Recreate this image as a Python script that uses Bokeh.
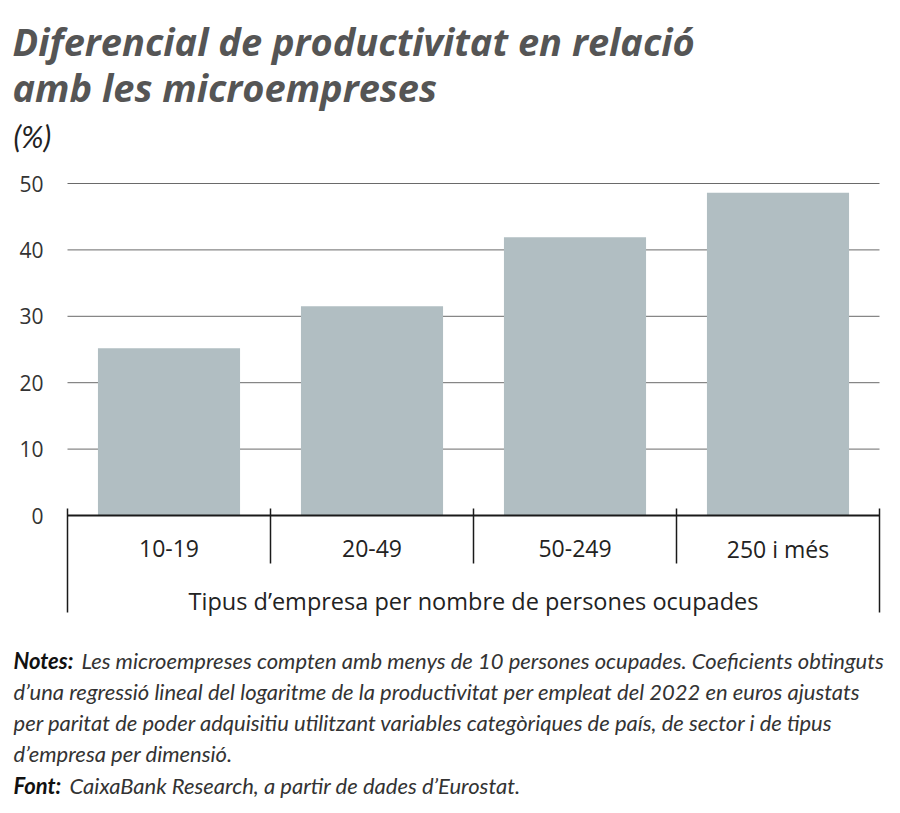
from bokeh.plotting import figure
from bokeh.models import Range1d
from bokeh.embed import file_html
from bokeh.resources import INLINE
from bokeh.core.properties import value
import numpy as np

# ---- data ----
categories = ["10-19", "20-49", "50-249", "250 i més"]
values = [25.2, 31.5, 41.9, 48.6]
y_ticks = [0, 10, 20, 30, 40, 50]
title_lines = ["Diferencial de productivitat en relació", "amb les microempreses"]
unit_label = "(%)"
x_title = "Tipus d’empresa per nombre de persones ocupades"
notes_head = "Notes:"
notes_lines = [
    "Les microempreses compten amb menys de 10 persones ocupades. Coeficients obtinguts",
    "d’una regressió lineal del logaritme de la productivitat per empleat del 2022 en euros ajustats",
    "per paritat de poder adquisitiu utilitzant variables categòriques de país, de sector i de tipus",
    "d’empresa per dimensió.",
]
source_head = "Font:"
source_text = "CaixaBank Research, a partir de dades d’Eurostat."

# ---- layout (page pixels) ----
W, H = 892, 805
X0_PX, X1_PX = 67, 879      # category axis extent
Y0_PX, Y50_PX = 515, 183    # value 0 and value 50
n = len(categories)
xs = (X1_PX - X0_PX) / n               # px per category
ys = (Y0_PX - Y50_PX) / 50.0           # px per unit


def xd(X):
    return (X - X0_PX) / xs


def yd(Y):
    return (Y0_PX - Y) / ys


TITLE_FONT = "Open Sans"
NOTE_FONT = "Lato"
AX_FONT = "Open Sans"

p = figure(width=W, height=H,
           x_range=Range1d(xd(0), xd(W)), y_range=Range1d(yd(H), yd(0)),
           output_backend="svg", toolbar_location=None,
           min_border=0, min_border_left=0, min_border_right=0,
           min_border_top=0, min_border_bottom=0)
p.outline_line_color = None
p.background_fill_color = "white"
p.border_fill_color = "white"
p.axis.visible = False
p.grid.visible = False

# gridlines and y tick labels
yt = np.array(y_ticks, dtype=float)
p.segment(x0=[0] * len(yt), x1=[n] * len(yt), y0=yt, y1=yt,
          line_color="#6a6a6a", line_width=1)
p.text(x=[xd(43)] * len(yt), y=yt, text=[str(t) for t in y_ticks],
       text_align="right", text_baseline="middle",
       text_font=value(AX_FONT), text_font_size="21px", text_color="#333333")

# bars
centers = np.arange(n) + 0.5
p.vbar(x=centers, top=values, bottom=0, width=0.7,
       fill_color="#b1bec2", line_color=None)

# baseline axis and separators
bounds = np.arange(n + 1)
p.segment(x0=[0], x1=[n], y0=[0], y1=[0], line_color="#1a1a1a", line_width=2)
inner = bounds[1:-1]
p.segment(x0=inner, x1=inner, y0=[yd(508)] * len(inner), y1=[yd(563)] * len(inner),
          line_color="#1a1a1a", line_width=1.5)
outer = np.array([bounds[0], bounds[-1]])
p.segment(x0=outer, x1=outer, y0=[yd(508)] * 2, y1=[yd(612)] * 2,
          line_color="#1a1a1a", line_width=1.5)

p.text(x=centers, y=[yd(548)] * n, text=categories, text_align="center",
       text_baseline="middle", text_font=value(AX_FONT),
       text_font_size="23px", text_color="#222222")
p.text(x=[n / 2], y=[yd(600)], text=[x_title], text_align="center",
       text_baseline="middle", text_font=value(AX_FONT),
       text_font_size="23.5px", text_color="#222222")


def page_text(text, X, base_Y, size, color, style="normal", font=NOTE_FONT):
    # place by visual baseline: shift to the middle of the em box
    mid_Y = base_Y - 0.3 * size
    p.text(x=[xd(X)], y=[yd(mid_Y)], text=[text], text_align="left",
           text_baseline="middle", text_font=value(font),
           text_font_size=f"{size}px", text_font_style=style, text_color=color)


page_text(title_lines[0], 12, 52, 38, "#555555", "bold italic", TITLE_FONT)
page_text(title_lines[1], 12, 98, 38, "#555555", "bold italic", TITLE_FONT)
page_text(unit_label, 13, 144, 30, "#222222", "italic", NOTE_FONT)

note_y = [667, 698, 729, 760]
NS = 22.0
page_text(notes_head, 13, note_y[0], NS, "#111111", "bold italic")
page_text(notes_lines[0], 81, note_y[0], NS, "#333333", "italic")
for txt, yy in zip(notes_lines[1:], note_y[1:]):
    page_text(txt, 13, yy, NS, "#333333", "italic")
page_text(source_head, 13, 792, NS, "#111111", "bold italic")
page_text(source_text, 69, 792, NS, "#333333", "italic")

open("out.html", "w").write(file_html(p, INLINE))
